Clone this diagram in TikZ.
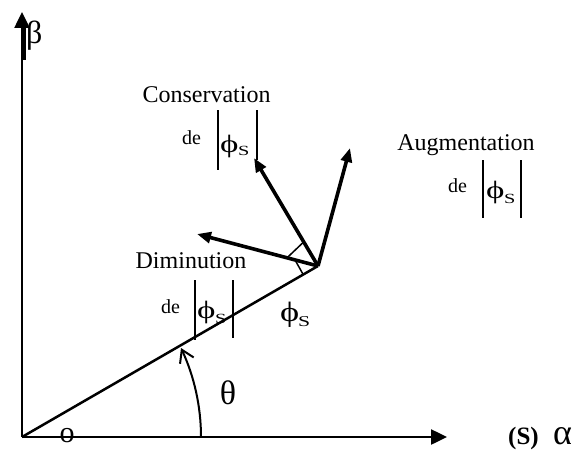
\documentclass[tikz,border=0pt]{standalone}
\usepackage{fontspec}
\setmainfont{Liberation Serif}
\usetikzlibrary{arrows.meta,calc}
\newcommand{\myphi}{\scalebox{1.4}[1]{ϕ}}
\newcommand{\mys}{\scalebox{1.45}[1]{S}}
\begin{document}
\begin{tikzpicture}[x=1pt,y=-1pt,
  axis/.style={line width=2.5pt,-{Triangle[length=16pt,width=15pt]}},
  vec/.style={line width=3.6pt,-{Triangle[length=14pt,width=11pt]}},
  flux/.style={line width=2.5pt},
  bar/.style={line width=1.1pt},
  marker/.style={line width=1.5pt},
  lbl/.style={inner sep=0pt,font=\fontsize{24}{24}\selectfont},
  detxt/.style={inner sep=0pt,font=\fontsize{20}{20}\selectfont},
  phitxt/.style={inner sep=0pt,font=\fontsize{25}{25}\selectfont},
  subtxt/.style={inner sep=0pt,font=\fontsize{14}{14}\selectfont},
  greek/.style={inner sep=0pt,font=\fontsize{34}{34}\selectfont},
]
\useasboundingbox (0,0) rectangle (586,452);
% points
\coordinate (O) at (22,437);
\coordinate (Yt) at (22,12);
\coordinate (Xt) at (447,437);
\coordinate (J) at (318,266);
\coordinate (C) at (254,158);
\coordinate (L) at (197,234);
\coordinate (R) at (350,148);
\coordinate (A0) at (201,437);
\coordinate (A1) at (181,348);
% origin label (under the axis)
\node[inner sep=0pt,anchor=base,font=\fontsize{30}{30}\selectfont] (o) at (67,442) {o};
% axes
\draw[axis] (O) -- (Yt);
\draw[line width=5pt] (23.5,27) -- (23.5,60);
\draw[axis] (O) -- (Xt);
\node[greek,anchor=base west,font=\fontsize{32}{32}\selectfont] (beta) at (26,44) {β};
\node[inner sep=0pt,anchor=base west,font=\fontsize{25}{25}\selectfont\bfseries] (S) at (508,444) {(S)};
\node[greek,anchor=base west,font=\fontsize{36}{36}\selectfont] (alpha) at (553,444) {α};
% flux vector and variations
\draw[flux] (O) -- (J);
\draw[vec] (J) -- (C);
\draw[vec] (J) -- (L);
\draw[vec] (J) -- (R);
% right-angle marks
\draw[marker] ($(J)!0.256!(L)$) -- ($(J)!0.223!(C)$);
\draw[marker] ($(J)!0.19!(L)$) -- ($(J)!0.05!(O)$);
% theta arc
\draw[line width=2pt,-{Straight Barb[length=12pt,width=15pt]}] (A0) .. controls (201,406) and (194,376) .. (A1);
\node[greek] (theta) at (228,393) {θ};
% flux label
\node[phitxt,anchor=base west,font=\fontsize{28}{28}\selectfont] (phi) at (280,321) {\scalebox{1.3}[1]{ϕ}};
\node[subtxt,anchor=base west,font=\fontsize{15}{15}\selectfont] (phis) at (298,326) {\mys};
% Conservation
\node[lbl,anchor=base] (cons) at (206.5,102) {Conservation};
\node[detxt,anchor=base west] (dec) at (182,144) {de};
\draw[bar] (218,110) -- (218,170);
\draw[bar] (257,110) -- (257,160);
\node[phitxt,anchor=base west] (phic) at (220,152) {\myphi};
\node[subtxt,anchor=base west] (sc) at (238,155) {\mys};
% Augmentation
\node[lbl,anchor=base] (aug) at (466,150) {Augmentation};
\node[detxt,anchor=base west] (dea) at (448,192) {de};
\draw[bar] (483,160) -- (483,218);
\draw[bar] (521,160) -- (521,218);
\node[phitxt,anchor=base west] (phia) at (486,198) {\myphi};
\node[subtxt,anchor=base west] (sa) at (504,203) {\mys};
% Diminution
\node[lbl,anchor=base] (dim) at (191,268) {Diminution};
\node[detxt,anchor=base west] (ded) at (161,313) {de};
\draw[bar] (195,280) -- (195,340);
\draw[bar] (233,280) -- (233,338);
\node[phitxt,anchor=base west] (phid) at (197,318) {\myphi};
\node[subtxt,anchor=base west] (sd) at (215,323) {\mys};
\end{tikzpicture}
\end{document}
